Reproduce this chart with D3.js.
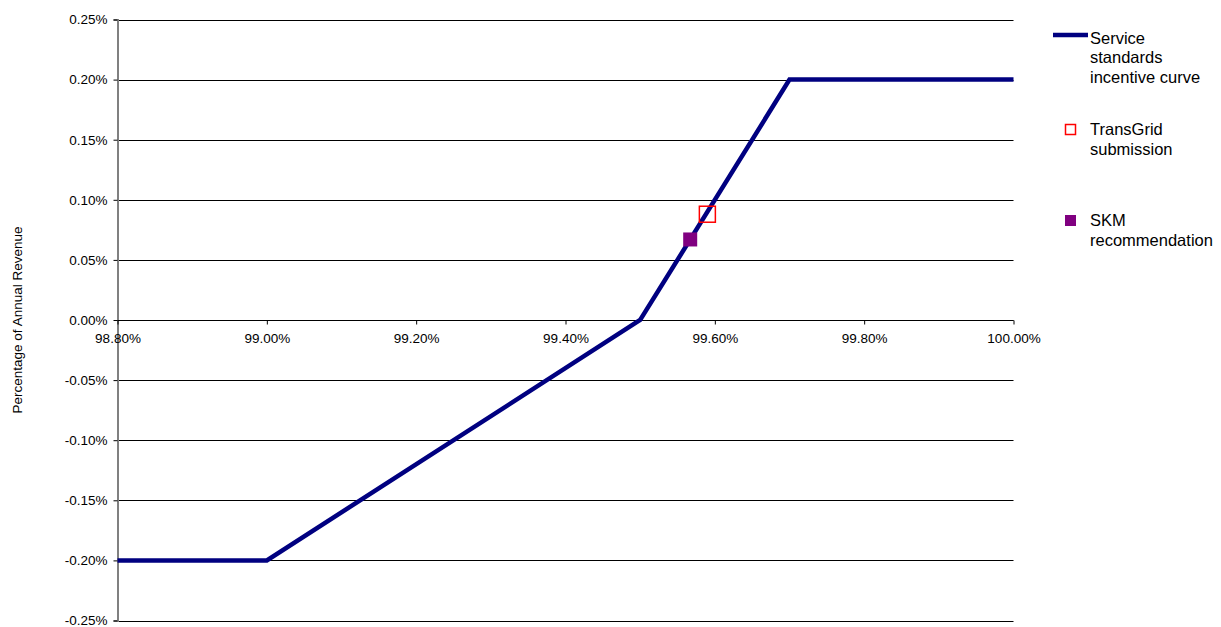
<!DOCTYPE html>
<html>
<head>
<meta charset="utf-8">
<script src="https://cdn.jsdelivr.net/npm/d3@7"></script>
<style>
  html, body { margin: 0; padding: 0; background: #fff; }
  svg { display: block; font-family: "Liberation Sans", Arial, sans-serif; }
</style>
</head>
<body>
<svg id="chart" width="1221" height="627"></svg>
<script>
// Service standards incentive curve: availability (%) vs revenue adjustment (%)
const curveX = [98.8, 99.0, 99.5, 99.7, 100.0];
const curveY = [-0.20, -0.20, 0.00, 0.20, 0.20];

// Proposed targets
const transGridX = [99.59];
const transGridY = [0.088];
const skmX = [99.567];
const skmY = [0.067];

// Axis ticks
const xTicks = [98.8, 99.0, 99.2, 99.4, 99.6, 99.8, 100.0];
const yTicks = [0.25, 0.20, 0.15, 0.10, 0.05, 0.00, -0.05, -0.10, -0.15, -0.20, -0.25];

const legendLabels = [
  ["Service", "standards", "incentive curve"],
  ["TransGrid", "submission"],
  ["SKM", "recommendation"]
];

const svg = d3.select("#chart");
const plotL = 117.5, plotR = 1013.5, plotT = 19.5, plotB = 620.5;

const x = d3.scaleLinear().domain([98.8, 100.0]).range([plotL, plotR]);
const y = d3.scaleLinear().domain([-0.25, 0.25]).range([plotB, plotT]);

const fmtX = v => v.toFixed(2) + "%";
const fmtY = v => (Math.abs(v) < 1e-9 ? 0 : v).toFixed(2) + "%";

// Horizontal gridlines
svg.append("g")
  .selectAll("line")
  .data(yTicks)
  .join("line")
  .attr("x1", plotL)
  .attr("x2", plotR)
  .attr("y1", d => Math.round(y(d)) + 0.5)
  .attr("y2", d => Math.round(y(d)) + 0.5)
  .attr("stroke", "#000")
  .attr("stroke-width", 1);

// Y axis
const yAxis = d3.axisLeft(y).tickValues(yTicks).tickFormat(fmtY).tickSize(4).tickPadding(6);
const gy = svg.append("g").attr("transform", `translate(${plotL},0)`).call(yAxis);
gy.select(".domain").attr("stroke", "#808080").attr("stroke-width", 2);
gy.selectAll(".tick line").attr("stroke", "#000");
gy.selectAll(".tick text")
  .attr("font-size", "13.5px")
  .attr("font-family", "'Liberation Sans', Arial, sans-serif")
  .attr("fill", "#000");

// X axis sits on the zero line
const xAxis = d3.axisBottom(x).tickValues(xTicks).tickFormat(fmtX).tickSize(4).tickPadding(9);
const gx = svg.append("g").attr("transform", `translate(0,${Math.round(y(0)) + 0.5})`).call(xAxis);
gx.select(".domain").attr("stroke", "#000").attr("stroke-width", 1).attr("d", `M${plotL},0H${plotR}`);
gx.selectAll(".tick line").attr("stroke", "#000");
gx.selectAll(".tick text")
  .attr("font-size", "13.5px")
  .attr("font-family", "'Liberation Sans', Arial, sans-serif")
  .attr("fill", "#000");

// Y axis title
svg.append("text")
  .attr("transform", `translate(22,${(plotT + plotB) / 2}) rotate(-90)`)
  .attr("text-anchor", "middle")
  .attr("font-size", "13.5px")
  .attr("fill", "#000")
  .text("Percentage of Annual Revenue");

// Incentive curve
const line = d3.line().x(d => x(d[0])).y(d => y(d[1]));
svg.append("path")
  .datum(d3.zip(curveX, curveY))
  .attr("d", line)
  .attr("fill", "none")
  .attr("stroke", "#000080")
  .attr("stroke-width", 4.5)
  .attr("stroke-linejoin", "miter");

// SKM recommendation marker
svg.append("g")
  .selectAll("rect")
  .data(d3.zip(skmX, skmY))
  .join("rect")
  .attr("x", d => x(d[0]) - 7)
  .attr("y", d => y(d[1]) - 7)
  .attr("width", 14)
  .attr("height", 14)
  .attr("fill", "#800080");

// TransGrid submission marker
svg.append("g")
  .selectAll("rect")
  .data(d3.zip(transGridX, transGridY))
  .join("rect")
  .attr("x", d => x(d[0]) - 8)
  .attr("y", d => y(d[1]) - 8)
  .attr("width", 16)
  .attr("height", 16)
  .attr("fill", "none")
  .attr("stroke", "#ff0000")
  .attr("stroke-width", 1.5);

// Legend
const lg = svg.append("g").attr("font-size", "16.5px").attr("fill", "#000");
const textX = 1090;
const lineH = 19.5;
const entryBase = [43.5, 135, 226];

legendLabels.forEach((lines, i) => {
  const t = lg.append("text").attr("x", textX).attr("y", entryBase[i]);
  lines.forEach((s, j) => {
    t.append("tspan").attr("x", textX).attr("y", entryBase[i] + j * lineH).text(s);
  });
});

lg.append("line")
  .attr("x1", 1053).attr("x2", 1088)
  .attr("y1", 35).attr("y2", 35)
  .attr("stroke", "#000080").attr("stroke-width", 4.5);

lg.append("rect")
  .attr("x", 1065.5).attr("y", 124.5)
  .attr("width", 10).attr("height", 10)
  .attr("fill", "#fff").attr("stroke", "#ff0000").attr("stroke-width", 1.5);

lg.append("rect")
  .attr("x", 1065).attr("y", 215)
  .attr("width", 11).attr("height", 11)
  .attr("fill", "#800080");
</script>
</body>
</html>
